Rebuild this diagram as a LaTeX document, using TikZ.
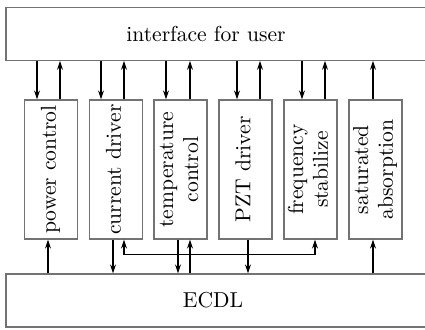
\documentclass[tikz,border=0pt]{standalone}
\usepackage{tikz}
\usetikzlibrary{arrows.meta}
\tikzset{
  frame/.style={draw=black!55,line width=0.6pt,fill=white,font=\fontsize{10.8}{12.5}\selectfont,inner sep=0pt},
  module/.style={frame,minimum width=26.5pt,minimum height=69.5pt},
  bus/.style={frame,minimum width=212pt,minimum height=26.25pt},
  arr/.style={line width=0.7pt,-{Stealth[length=4.5pt,width=3pt]}},
  darr/.style={line width=0.7pt,{Stealth[length=4.5pt,width=3pt]}-{Stealth[length=4.5pt,width=3pt]}}
}
\newcommand{\vtext}[1]{\rotatebox{90}{\begin{tabular}{@{}c@{}}#1\end{tabular}}}

\begin{document}
\begin{tikzpicture}[x=0.5pt,y=-0.5pt]
\useasboundingbox (0,0) rectangle (425,329);
\clip (0,0) rectangle (425,329);
\node[bus] (ui) at (218,34) {\hspace*{-12pt}interface for user};
\node[bus,minimum height=26.5pt] (ecdl) at (218,300.5) {\raisebox{-2pt}{\hspace*{-5pt}ECDL}};
\node[module] (b1) at (51,169.5) {\vtext{power control}};
\node[module] (b2) at (116,169.5) {\vtext{current driver}};
\node[module] (b3) at (180.5,169.5) {\vtext{temperature\\control}};
\node[module] (b4) at (245.5,169.5) {\vtext{PZT driver}};
\node[module] (b5) at (310.5,169.5) {\vtext{frequency\\stabilize}};
\node[module] (b6) at (375.5,169.5) {\vtext{saturated\\absorption}};
% user interface <-> modules
\foreach \n/\dn/\up in {1/-7/4.5, 2/-7.5/4, 3/-7.25/4.75, 4/-4.25/7.25, 5/-4.25/7.25} {
  \coordinate (dn) at ([xshift=\dn pt]b\n.north);
  \coordinate (up) at ([xshift=\up pt]b\n.north);
  \draw[arr] (dn |- ui.south) -- (dn);
  \draw[arr] (up) -- (up |- ui.south);
}
\coordinate (t6) at ([xshift=-1.25pt]b6.north);
\draw[arr] (t6) -- (t6 |- ui.south);
% modules <-> ECDL
\coordinate (e1) at ([xshift=-1.5pt]b1.south);
\draw[arr] (e1 |- ecdl.north) -- (e1);
\coordinate (e2) at ([xshift=-1.5pt]b2.south);
\draw[arr] (e2) -- (e2 |- ecdl.north);
\coordinate (e3a) at ([xshift=-1.25pt]b3.south);
\draw[arr] (e3a) -- (e3a |- ecdl.north);
\coordinate (e3b) at ([xshift=4.75pt]b3.south);
\draw[arr] (e3b |- ecdl.north) -- (e3b);
\coordinate (e4) at ([xshift=1.25pt]b4.south);
\draw[arr] (e4) -- (e4 |- ecdl.north);
\coordinate (e6) at ([xshift=-1.25pt]b6.south);
\draw[arr] (e6 |- ecdl.north) -- (e6);
% current driver <-> frequency stabilize
\coordinate (l2) at ([xshift=4pt]b2.south);
\coordinate (l5) at ([xshift=2.25pt]b5.south);
\draw[darr] (l2) |- ([yshift=-7.5pt]l5) -- (l5);
\end{tikzpicture}
\end{document}
